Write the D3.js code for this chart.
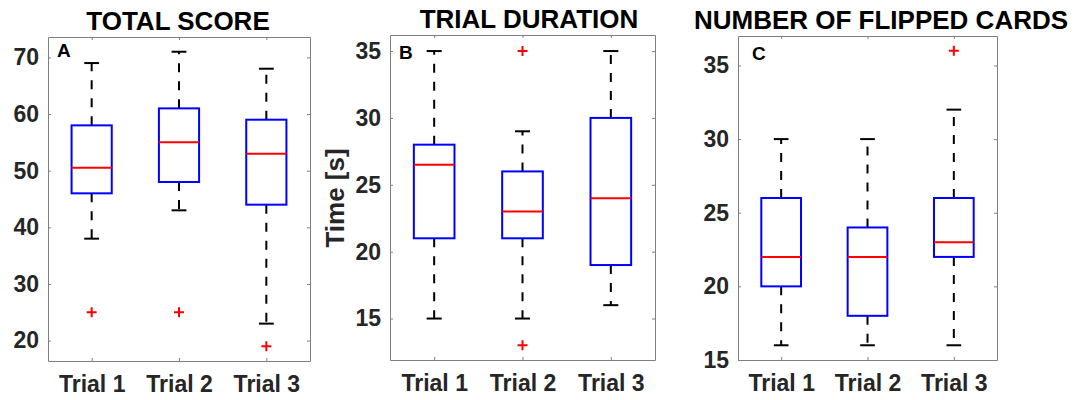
<!DOCTYPE html>
<html>
<head>
<meta charset="utf-8">
<script src="https://cdn.jsdelivr.net/npm/d3@7"></script>
<style>
  body { margin: 0; background: #fff; }
  svg { display: block; font-family: "Liberation Sans", Arial, sans-serif; }
</style>
</head>
<body>
<div id="chart"></div>
<script>
// Categories shared by the three panels
const categories = ["Trial 1", "Trial 2", "Trial 3"];

// Box summaries: [lower whisker, q1, median, q3, upper whisker]
const scoreStats = [[38, 46, 50.5, 58, 69], [43, 48, 55, 61, 71], [23, 44, 53, 59, 68]];
const scoreOutliers = [[25], [25], [19]];
const scoreTicks = [20, 30, 40, 50, 60, 70];

const durationStats = [[15, 21, 26.5, 28, 35], [15, 21, 23, 26, 29], [16, 19, 24, 30, 35]];
const durationOutliers = [[], [35, 13], []];
const durationTicks = [15, 20, 25, 30, 35];

const flipStats = [[16, 20, 22, 26, 30], [16, 18, 22, 24, 30], [16, 22, 23, 26, 32]];
const flipOutliers = [[], [], [36]];
const flipTicks = [15, 20, 25, 30, 35];

// Panel layout (pixel frame + axis range)
const panels = [
    { title: "TOTAL SCORE", letter: "A", stats: scoreStats, outliers: scoreOutliers, ticks: scoreTicks,
      domain: [16.4, 73.6], left: 48, right: 310, top: 37, bottom: 361,
      titleX: 178, titleY: 30, letterDx: 9, letterDy: 20 },
    { title: "TRIAL DURATION", letter: "B", stats: durationStats, outliers: durationOutliers, ticks: durationTicks,
      domain: [11.9, 36.2], left: 390, right: 655, top: 35, bottom: 360,
      titleX: 529, titleY: 28, letterDx: 9, letterDy: 24, ylabel: "Time [s]" },
    { title: "NUMBER OF FLIPPED CARDS", letter: "C", stats: flipStats, outliers: flipOutliers, ticks: flipTicks,
      domain: [15, 37], left: 738, right: 997, top: 36, bottom: 360,
      titleX: 881, titleY: 29, letterDx: 14, letterDy: 24 }
];

const svg = d3.select("#chart")
    .append("svg")
    .attr("width", 1076)
    .attr("height", 400);

const axisColor = "#808080";
const textColor = "#262626";

panels.forEach(p => {
    const x = d3.scaleLinear().domain([0.5, categories.length + 0.5]).range([p.left, p.right]);
    const y = d3.scaleLinear().domain(p.domain).range([p.bottom, p.top]);
    const boxHalf = 0.23;   // in category units
    const capHalf = 0.085;

    const g = svg.append("g");

    // Axes: inward ticks on all four sides
    const catIdx = categories.map((c, i) => i + 1);
    const left = g.append("g").attr("transform", `translate(${p.left},0)`)
        .call(d3.axisLeft(y).tickValues(p.ticks).tickSize(-3).tickSizeOuter(0).tickPadding(9));
    g.append("g").attr("transform", `translate(${p.right},0)`)
        .call(d3.axisRight(y).tickValues(p.ticks).tickSize(-3).tickSizeOuter(0).tickFormat(""));
    const bottom = g.append("g").attr("transform", `translate(0,${p.bottom})`)
        .call(d3.axisBottom(x).tickValues(catIdx).tickSize(-3).tickSizeOuter(0).tickPadding(15)
            .tickFormat(d => categories[d - 1]));
    g.append("g").attr("transform", `translate(0,${p.top})`)
        .call(d3.axisTop(x).tickValues(catIdx).tickSize(-3).tickSizeOuter(0).tickFormat(""));

    g.selectAll(".domain").attr("stroke", axisColor);
    g.selectAll(".tick line").attr("stroke", axisColor);
    [left, bottom].forEach(a => a.selectAll("text")
        .attr("fill", textColor)
        .style("font-size", "23px")
        .style("font-weight", "bold")
        .style("font-family", "'Liberation Sans', Arial, sans-serif"));

    // Boxes
    const boxes = g.selectAll(".bp").data(p.stats).enter().append("g");

    boxes.append("line")  // upper whisker
        .attr("x1", (d, i) => x(i + 1)).attr("x2", (d, i) => x(i + 1))
        .attr("y1", d => y(d[3])).attr("y2", d => y(d[4]))
        .attr("stroke", "#000").attr("stroke-width", 2).attr("stroke-dasharray", "9,9");
    boxes.append("line")  // lower whisker
        .attr("x1", (d, i) => x(i + 1)).attr("x2", (d, i) => x(i + 1))
        .attr("y1", d => y(d[1])).attr("y2", d => y(d[0]))
        .attr("stroke", "#000").attr("stroke-width", 2).attr("stroke-dasharray", "9,9");

    [0, 4].forEach(k => {
        boxes.append("line")
            .attr("x1", (d, i) => x(i + 1 - capHalf)).attr("x2", (d, i) => x(i + 1 + capHalf))
            .attr("y1", d => y(d[k])).attr("y2", d => y(d[k]))
            .attr("stroke", "#000").attr("stroke-width", 2);
    });

    boxes.append("rect")
        .attr("x", (d, i) => x(i + 1 - boxHalf))
        .attr("width", (d, i) => x(i + 1 + boxHalf) - x(i + 1 - boxHalf))
        .attr("y", d => y(d[3]))
        .attr("height", d => y(d[1]) - y(d[3]))
        .attr("fill", "none").attr("stroke", "#0000ff").attr("stroke-width", 2);

    boxes.append("line")  // median
        .attr("x1", (d, i) => x(i + 1 - boxHalf)).attr("x2", (d, i) => x(i + 1 + boxHalf))
        .attr("y1", d => y(d[2])).attr("y2", d => y(d[2]))
        .attr("stroke", "#ff0000").attr("stroke-width", 2);

    // Outliers
    const outs = p.outliers.flatMap((arr, i) => arr.map(v => ({ i, v })));
    g.selectAll(".out").data(outs).enter().append("path")
        .attr("transform", d => `translate(${x(d.i + 1)},${y(d.v)})`)
        .attr("d", "M-5,0H5M0,-5V5")
        .attr("stroke", "#ff0000").attr("stroke-width", 2);

    // Title and panel letter
    g.append("text")
        .attr("x", p.titleX).attr("y", p.titleY)
        .attr("text-anchor", "middle")
        .style("font-size", "26px").style("font-weight", "bold")
        .text(p.title);
    g.append("text")
        .attr("x", p.left + p.letterDx).attr("y", p.top + p.letterDy)
        .style("font-size", "19px").style("font-weight", "bold")
        .text(p.letter);

    if (p.ylabel) {
        g.append("text")
            .attr("transform", `translate(344,198) rotate(-90)`)
            .attr("text-anchor", "middle")
            .attr("fill", textColor)
            .style("font-size", "26px").style("font-weight", "bold")
            .text(p.ylabel);
    }
});
</script>
</body>
</html>
